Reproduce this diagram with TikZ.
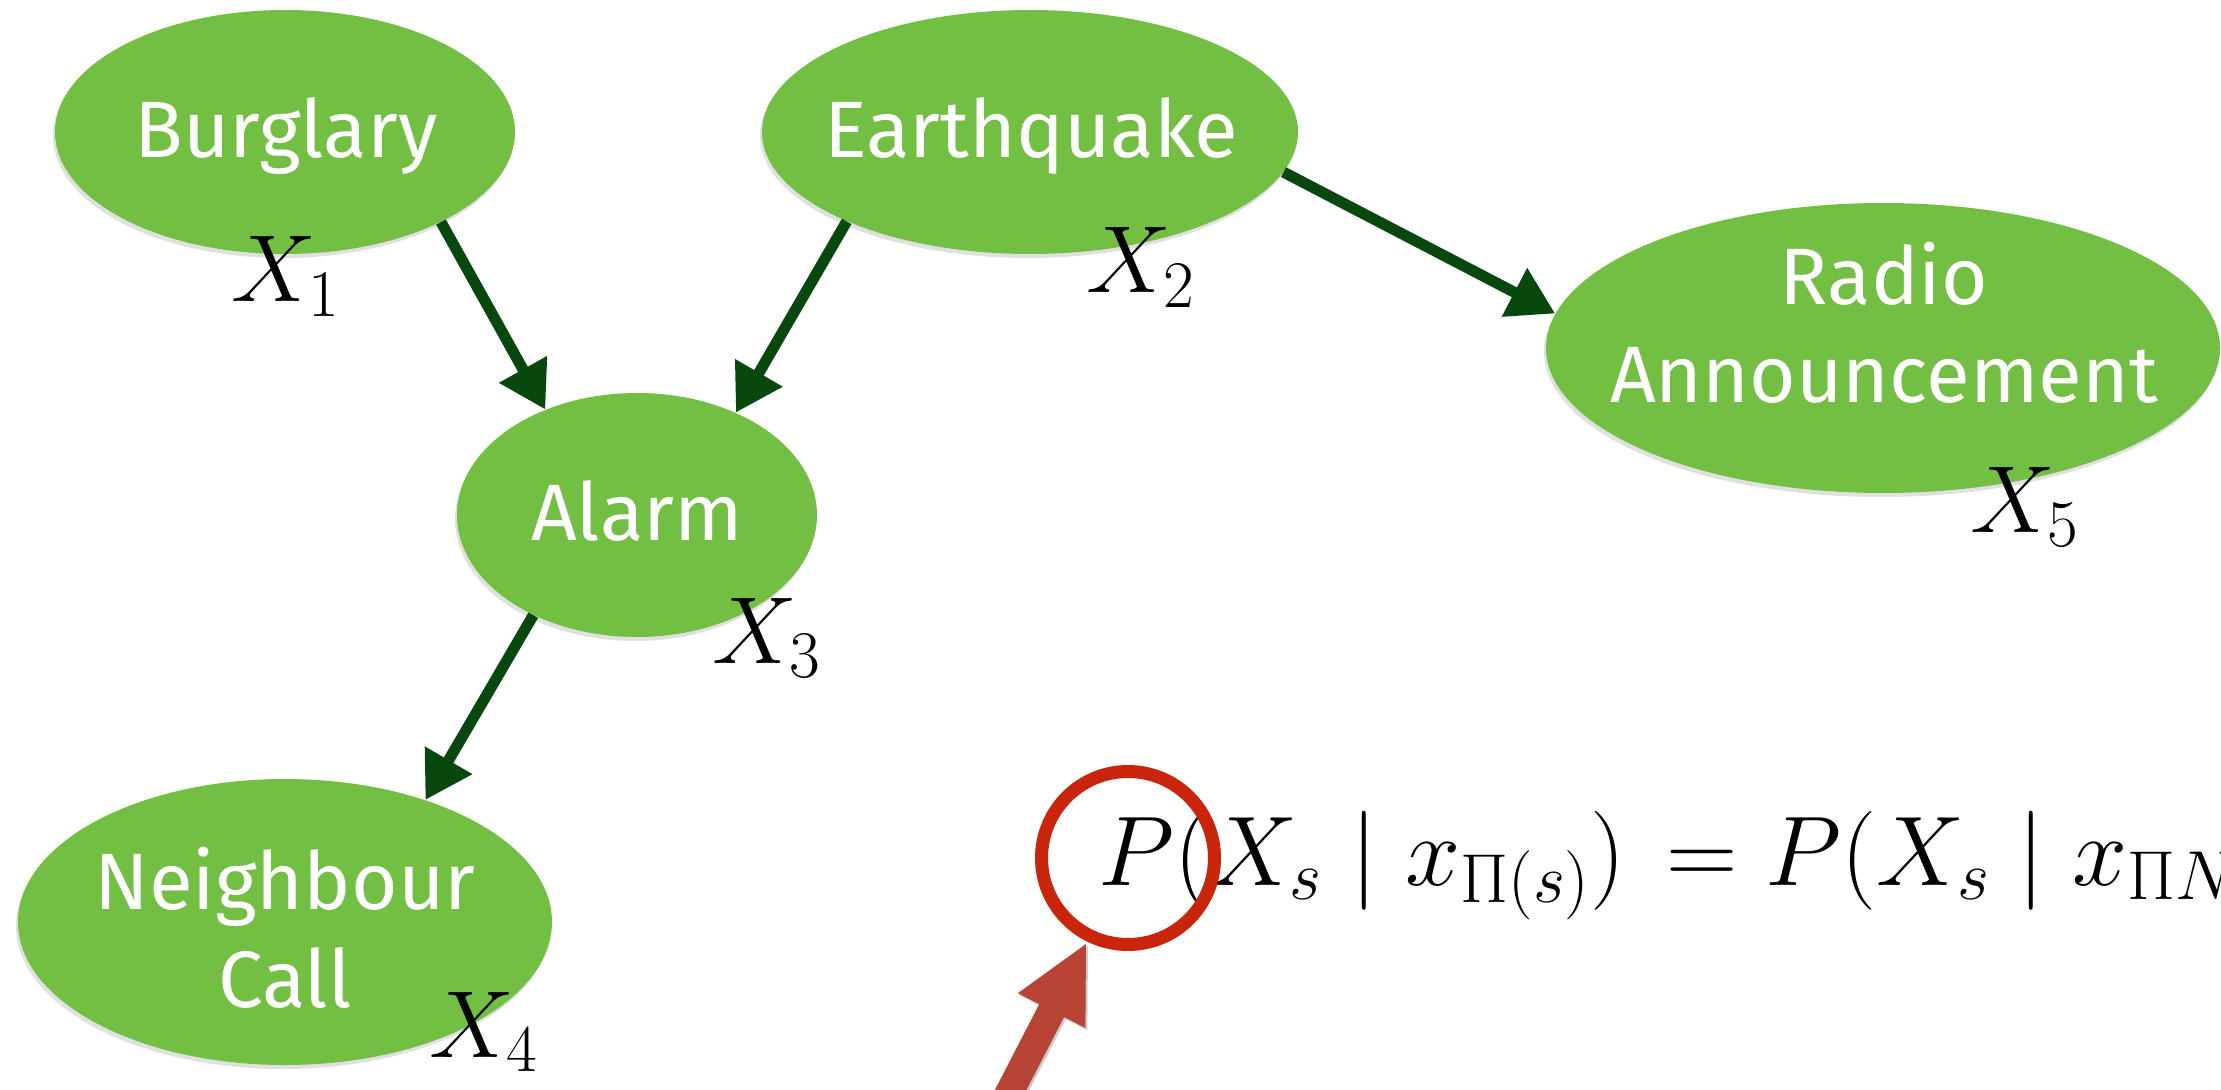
\RequirePackage{fix-cm}
\documentclass[tikz,border=0pt]{standalone}
\usepackage{fontspec}
\setsansfont{Fira Sans}
\usetikzlibrary{shapes.geometric,arrows.meta,shadows}
\definecolor{nodegreen}{RGB}{114,191,68}
\definecolor{edgegreen}{RGB}{8,72,14}
\definecolor{ringred}{RGB}{200,37,12}
\definecolor{arrowred}{RGB}{183,68,52}
\begin{document}
\begin{tikzpicture}[x=0.5pt,y=-0.5pt,
  ell/.style={ellipse, fill=nodegreen, draw=none, inner sep=0pt,
    drop shadow={shadow xshift=-1pt, shadow yshift=-2pt, opacity=0.2, fill=black!60}},
  lbl/.style={text=white, font=\sffamily\fontsize{40}{49}\selectfont, inner sep=0pt, align=center, anchor=base},
  varlbl/.style={font=\fontsize{47.6}{52}\selectfont, inner sep=0pt, anchor=base west},
  link/.style={draw=edgegreen, line width=5.5pt, -{Triangle[length=23pt,width=26pt]}}]
\useasboundingbox (0,0) rectangle (2221,1090);
\fill[white] (0,0) rectangle (2221,1090);
\clip (0,0) rectangle (2221,1090);

% nodes
\node[ell, minimum width=230pt, minimum height=122pt] (burg) at (285,132) {};
\node[ell, minimum width=268pt, minimum height=122pt] (quake) at (1030,132) {};
\node[ell, minimum width=337pt, minimum height=145pt] (radio) at (1883,348) {};
\node[ell, minimum width=180pt, minimum height=122pt] (alarm) at (637,515) {};
\node[ell, minimum width=267pt, minimum height=143pt] (nbr) at (285,922) {};

\node[lbl] (burgtxt) at (286,158) {Burglary};
\node[lbl] (quaketxt) at (1031,158) {Earthquake};
\node[lbl] (alarmtxt) at (637,541) {Alarm};
\node[lbl] (radiotxt) at (1884,403) {Radio\\Announcement};
\node[lbl] (nbrtxt) at (285,1007) {Neighbour\\Call};

% edges
\draw[link] (burg.-30.3) -- (alarm.131.9);
\draw[link] (quake.206.9) -- (alarm.46.7);
\draw[link] (quake.-9.2) -- (radio.174.1);
\draw[link] (alarm.224.1) -- (nbr.41.2);

% variable labels
\node[varlbl] (x1) at (231,302) {$X_1$};
\node[varlbl] (x2) at (1086,293) {$X_2$};
\node[varlbl] (x3) at (712,663) {$X_3$};
\node[varlbl] (x4) at (429,1057) {$X_4$};
\node[varlbl] (x5) at (1970,532) {$X_5$};

% equation
\node[varlbl, font=\fontsize{49.5}{54}\selectfont] (eq) at (1098,885)
  {$P(X_s \mid x_{\Pi(s)})\mkern2.5mu = P(X_s \mid x_{\Pi N}$};

% red ring
\node[circle, draw=ringred, line width=6.5pt, minimum size=86.5pt, inner sep=0pt] (ring) at (1128,858) {};

% red block arrow
\begin{scope}[shift={(1086,944)}, rotate=62.7]
\fill[arrowred, drop shadow={shadow xshift=1pt, shadow yshift=-1pt, opacity=0.2, fill=black}]
  (0,0) -- (-75,-38) -- (-75,-14) -- (-260,-14) -- (-260,14) -- (-75,14) -- (-75,38) -- cycle;
\end{scope}
\end{tikzpicture}
\end{document}
